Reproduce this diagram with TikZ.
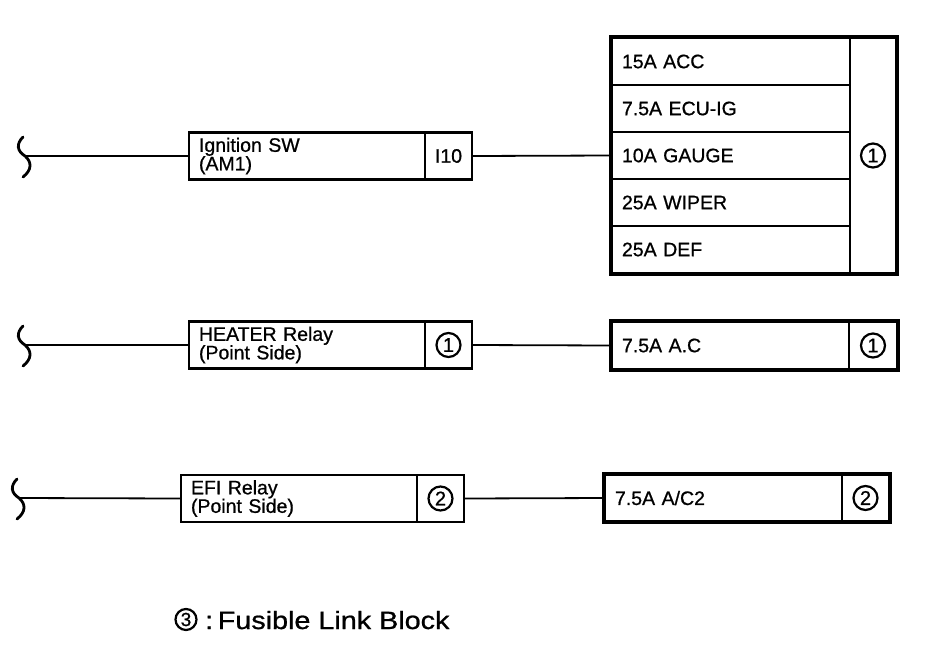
\documentclass[tikz,border=0pt]{standalone}
\usepackage{fontspec}
\setmainfont{Liberation Sans}
\newfontfamily\heavy{Liberation Sans}[FakeBold=0.8]
\begin{document}
\begin{tikzpicture}[x=1pt,y=-1pt,
  wire/.style={line width=1.8pt},
  bracepath/.style={line width=2.8pt, line cap=round},
  boxcell/.style={draw, line width=2.2pt, rectangle, inner sep=0pt, minimum height=47pt},
  labelbox/.style={boxcell, minimum width=236pt, text width=216pt, inner xsep=10pt, align=left,
     font=\heavy\fontsize{19.5}{18.5}\selectfont},
  fuserow/.style={boxcell, minimum width=238pt, text width=218pt, inner xsep=10pt, align=left,
     font=\heavy\fontsize{19.5}{19}\selectfont},
  pincell/.style={boxcell, minimum width=47pt, font=\heavy\fontsize{19.5}{19}\selectfont},
  outerframe/.style={line width=3.4pt},
  circnum/.style={circle, draw, line width=2.2pt, inner sep=0pt, minimum size=24pt,
     font=\heavy\fontsize{20}{20}\selectfont},
  circsmall/.style={circle, draw, line width=2.2pt, inner sep=0pt, minimum size=21pt,
     font=\heavy\fontsize{19}{19}\selectfont}
]
\useasboundingbox[fill=white] (0,0) rectangle (944,648);

% ---------- Row 1 ----------
\coordinate (b1) at (25,156);
\draw[bracepath, shift={(25,156)}] (-2,-19) .. controls (-9,-12) and (-8,-5) .. (0,0) .. controls (7,6) and (7,14) .. (-2,21);
\node[labelbox] (ign) at (307,156) {Ignition SW\\(AM1)};
\node[pincell] (ignpin) at (448.5,156) {I10};

\node[fuserow] (fa) at (731,61.5) {15A ACC};
\node[fuserow] (fb) at (731,108.5) {7.5A ECU-IG};
\node[fuserow] (fc) at (731,155.5) {10A GAUGE};
\node[fuserow] (fd) at (731,202.5) {25A WIPER};
\node[fuserow] (fe) at (731,249.5) {25A DEF};
\node[boxcell, minimum width=46pt, minimum height=235pt] (fnum1) at (873,155.5) {};
\node[circnum] (c1a) at (fnum1) {1};
\draw[outerframe] (fa.north west) rectangle (fnum1.south east);

\draw[wire] (b1) -- (ign.west);
\draw[wire] (ignpin.east) -- (fc.west);

% ---------- Row 2 ----------
\coordinate (b2) at (25,345);
\draw[bracepath, shift={(25,345)}] (-2,-19) .. controls (-9,-12) and (-8,-5) .. (0,0) .. controls (7,6) and (7,14) .. (-2,21);
\node[labelbox] (heat) at (307,345) {HEATER Relay\\(Point Side)};
\node[pincell] (heatpin) at (448.5,345) {};
\node[circnum] (c1b) at (heatpin) {1};

\node[fuserow, minimum width=237pt, text width=217pt] (fac) at (730.5,345.5) {7.5A A.C};
\node[boxcell, minimum width=48pt] (fnum2) at (873,345.5) {};
\node[circnum] (c1c) at (fnum2) {1};
\draw[outerframe] (fac.north west) rectangle (fnum2.south east);

\draw[wire] (b2) -- (heat.west);
\draw[wire] (heatpin.east) -- (fac.west);

% ---------- Row 3 ----------
\coordinate (b3) at (19,498);
\draw[bracepath, shift={(19,498)}] (-2,-19) .. controls (-9,-12) and (-8,-5) .. (0,0) .. controls (7,6) and (7,14) .. (-2,21);
\node[labelbox] (efi) at (299,498.5) {EFI Relay\\(Point Side)};
\node[pincell] (efipin) at (440.5,498.5) {};
\node[circnum] (c2a) at (efipin) {2};

\node[fuserow, minimum width=237pt, text width=217pt] (fac2) at (723.5,498) {7.5A A/C2};
\node[boxcell, minimum width=47pt] (fnum3) at (865.5,498) {};
\node[circnum] (c2b) at (fnum3) {2};
\draw[outerframe] (fac2.north west) rectangle (fnum3.south east);

\draw[wire] (b3) -- (efi.west);
\draw[wire] (efipin.east) -- (fac2.west);

% ---------- Footnote ----------
\node[circsmall] (c3) at (186,619.5) {3};
\node[anchor=base west, inner sep=0pt, font=\heavy\fontsize{25}{25}\selectfont] (note) at (205,629)
  {\scalebox{1.15}[1]{:\hspace{4pt}Fusible Link Block}};
\end{tikzpicture}
\end{document}
